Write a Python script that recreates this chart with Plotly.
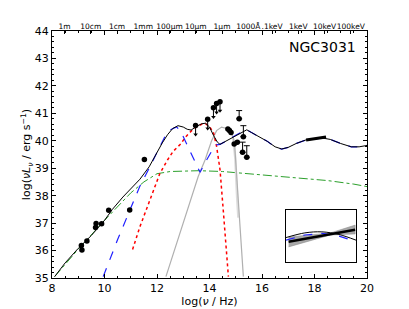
import numpy as np
import plotly.graph_objects as go

# ---------------- data ----------------
tot_x = [8.1, 8.5, 9.0, 9.5, 10.0, 10.3, 10.7, 11.0, 11.35, 11.7, 12.0, 12.2, 12.4, 12.6, 12.8, 13.0, 13.15, 13.3,
         13.5, 13.7, 13.85, 14.0, 14.15, 14.3, 14.4, 14.6, 14.8, 15.0, 15.2, 15.42, 15.6, 15.8, 16.0, 16.2, 16.5,
         16.75, 17.0, 17.3, 17.7, 18.0, 18.3, 18.6, 19.0, 19.4, 19.7, 20.0]
tot_y = [35.05, 35.55, 36.08, 36.55, 37.1, 37.5, 37.95, 38.25, 38.6, 39.05, 39.6, 39.92, 40.22, 40.45, 40.55, 40.5, 40.42, 40.39,
         40.52, 40.62, 40.64, 40.5, 40.2, 39.95, 39.87, 39.97, 40.1, 40.2, 40.3, 40.4, 40.3, 40.2, 40.1, 39.98, 39.78,
         39.7, 39.76, 39.9, 40.04, 40.08, 40.1, 40.05, 39.9, 39.78, 39.78, 39.83]

agn_x = [9.95, 10.5, 11.0, 11.35, 11.7, 12.0, 12.3, 12.5, 12.75, 12.9, 13.0, 13.2, 13.4, 13.64, 13.8, 13.95, 14.1, 14.27,
         14.4, 14.6, 14.8, 15.0, 15.2, 15.42, 15.6, 15.8, 16.0, 16.2, 16.5, 16.75, 17.0, 17.3, 17.7, 18.0, 18.3, 18.6,
         19.0, 19.4, 19.7, 20.0]
agn_y = [35.05, 36.4, 37.55, 38.35, 39.0, 39.55, 40.15, 40.4, 40.5, 40.35, 40.15, 39.75, 39.35, 38.85, 39.15, 39.42, 39.65, 39.85,
         39.87, 39.97, 40.1, 40.2, 40.3, 40.4, 40.3, 40.2, 40.1, 39.98, 39.78, 39.7, 39.76, 39.9, 40.04, 40.08, 40.1, 40.05,
         39.9, 39.78, 39.78, 39.83]

dust_x = [11.07, 11.35, 11.73, 12.11, 12.4, 12.62, 12.9, 13.1, 13.3, 13.5, 13.7, 13.85, 14.0, 14.15, 14.27, 14.4, 14.53, 14.63, 14.72]
dust_y = [36.04, 36.87, 37.84, 38.81, 39.3, 39.62, 39.88, 40.15, 40.35, 40.5, 40.6, 40.62, 40.52, 40.3, 39.8, 38.95, 37.4, 36.15, 35.05]

jet_x = [8.1, 9.0, 10.0, 10.5, 11.0, 11.5, 12.0, 12.5, 13.0, 13.6, 14.5, 15.5, 16.3, 17.5, 18.5, 19.5, 20.0]
jet_y = [35.05, 36.05, 37.1, 37.6, 38.1, 38.5, 38.8, 38.88, 38.9, 38.91, 38.88, 38.8, 38.75, 38.65, 38.55, 38.42, 38.33]

star_x = [12.34, 12.8, 13.2, 13.57, 13.83, 14.08, 14.27, 14.46, 14.65, 14.84, 14.95, 15.04, 15.13, 15.23, 15.29]
star_y = [35.05, 36.4, 37.6, 38.7, 39.3, 40.0, 40.37, 40.5, 40.45, 40.27, 39.95, 38.6, 37.6, 36.14, 35.05]

band_x = [14.9, 14.98, 15.05, 15.1]
band_y = [40.1, 39.4, 38.0, 37.2]

det_x = [9.12, 9.14, 9.33, 9.66, 9.68, 9.89, 10.16, 10.96, 11.52, 14.70, 14.76, 14.82, 14.94, 15.06]
det_y = [36.18, 36.02, 36.35, 36.84, 36.99, 36.98, 37.47, 37.48, 39.32, 40.43, 40.37, 40.3, 39.88, 39.95]

err_x = [15.13, 15.29, 15.26, 15.42]
err_y = [40.8, 40.15, 39.58, 39.4]
err_up = [0.3, 0.4, 0.37, 0.42]

ul_x = [13.47, 13.93, 14.15, 14.27, 14.4]
ul_y = [40.56, 40.78, 41.2, 41.36, 41.42]
ul_len = 0.33

uv_x = [14.67, 14.83]
uv_y = [40.44, 40.29]

xray_x = [17.68, 18.44]
xray_y = [40.03, 40.14]

# inset (zoom on the X-ray band)
ins_x = [17.63, 17.85, 18.05, 18.25, 18.45]
ins_agn = [39.92, 40.02, 40.05, 40.0, 39.89]
ins_tot = [39.97, 40.06, 40.08, 40.03, 39.92]
bow_x = [17.66, 18.15, 18.44]
bow_up = [39.98, 40.06, 40.21]
bow_lo = [39.79, 40.02, 40.04]
bow_mid = [39.89, 40.04, 40.12]

top_labels = ['1m', '10cm', '1cm', '1mm', '100μm', '10μm', '1μm', '1000Å', '.1keV', '1keV', '10keV', '100keV']
top_lambda_cm = [100, 10, 1, 0.1, 0.01, 1e-3, 1e-4, 1e-5]
top_kev = [0.1, 1, 10, 100]

c = 2.998e10
kev_hz = 2.418e17
top_vals = [np.log10(c / l) for l in top_lambda_cm] + [np.log10(e * kev_hz) for e in top_kev]

FONT = "DejaVu Sans"

fig = go.Figure()

fig.add_trace(go.Scatter(x=jet_x, y=jet_y, mode='lines', line=dict(color='#2ca02c', width=1, dash='dashdot'), showlegend=False))
fig.add_trace(go.Scatter(x=band_x, y=band_y, mode='lines', line=dict(color='#dddddd', width=2.5), showlegend=False))
fig.add_trace(go.Scatter(x=star_x, y=star_y, mode='lines', line=dict(color='#b0b0b0', width=1.2), showlegend=False))
fig.add_trace(go.Scatter(x=dust_x, y=dust_y, mode='lines', line=dict(color='red', width=1.5, dash='dot'), showlegend=False))
fig.add_trace(go.Scatter(x=agn_x, y=agn_y, mode='lines', line=dict(color='#2020ff', width=1.2, dash='dash'), showlegend=False))
fig.add_trace(go.Scatter(x=tot_x, y=tot_y, mode='lines', line=dict(color='black', width=1), showlegend=False))

fig.add_trace(go.Scatter(x=uv_x, y=uv_y, mode='lines', line=dict(color='black', width=3.5), showlegend=False))
fig.add_trace(go.Scatter(x=xray_x, y=xray_y, mode='lines', line=dict(color='black', width=3), showlegend=False))

fig.add_trace(go.Scatter(x=det_x, y=det_y, mode='markers', marker=dict(color='black', size=5.5), showlegend=False))
fig.add_trace(go.Scatter(x=err_x, y=err_y, mode='markers', marker=dict(color='black', size=5.5),
                         error_y=dict(type='data', symmetric=False, array=err_up, arrayminus=[0] * len(err_up),
                                      color='black', thickness=1, width=3), showlegend=False))
fig.add_trace(go.Scatter(x=ul_x, y=ul_y, mode='markers', marker=dict(color='black', size=5.5),
                         error_y=dict(type='data', symmetric=False, array=[0] * len(ul_x),
                                      arrayminus=[ul_len] * len(ul_x), color='black', thickness=1, width=0),
                         showlegend=False))
fig.add_trace(go.Scatter(x=ul_x, y=[v - ul_len for v in ul_y], mode='markers',
                         marker=dict(color='black', size=4, symbol='triangle-down'), showlegend=False))

# inset
fig.add_trace(go.Scatter(x=bow_x + bow_x[::-1], y=bow_up + bow_lo[::-1], fill='toself', fillcolor='#a8a8a8',
                         line=dict(color='#888888', width=0.5), mode='lines', xaxis='x3', yaxis='y3', showlegend=False))
fig.add_trace(go.Scatter(x=ins_x, y=ins_agn, mode='lines', line=dict(color='#2020ff', width=1.2, dash='dash'),
                         xaxis='x3', yaxis='y3', showlegend=False))
fig.add_trace(go.Scatter(x=ins_x, y=ins_tot, mode='lines', line=dict(color='black', width=1),
                         line_shape='spline', xaxis='x3', yaxis='y3', showlegend=False))
fig.add_trace(go.Scatter(x=bow_x, y=bow_mid, mode='lines', line=dict(color='black', width=2.5),
                         xaxis='x3', yaxis='y3', showlegend=False))

# dummy trace to activate top axis
fig.add_trace(go.Scatter(x=[8, 20], y=[35, 35], mode='lines', line=dict(width=0), xaxis='x2',
                         hoverinfo='skip', showlegend=False, opacity=0))

tickfont = dict(family=FONT, size=11, color='black')
fig.update_layout(
    width=401, height=301,
    margin=dict(l=44, r=42, t=23, b=31),
    paper_bgcolor='white', plot_bgcolor='white',
    font=dict(family=FONT, color='black'),
    xaxis=dict(range=[8, 20], tickvals=[8, 10, 12, 14, 16, 18, 20], ticks='inside', ticklen=4, tickwidth=1,
               tickcolor='black', showline=True, linecolor='black', linewidth=1, mirror='ticks',
               showgrid=False, zeroline=False, tickfont=tickfont, automargin=False,
               minor=dict(dtick=0.5, tick0=8, ticks='inside', ticklen=2, tickcolor='black', showgrid=False),
               title=dict(text='log(<i>ν</i> / Hz)', font=dict(family=FONT, size=11), standoff=3)),
    yaxis=dict(range=[35, 44], dtick=1, ticks='inside', ticklen=4, tickwidth=1, tickcolor='black',
               showline=True, linecolor='black', linewidth=1, mirror='ticks', showgrid=False, zeroline=False,
               tickfont=tickfont, automargin=False,
               minor=dict(dtick=0.2, ticks='inside', ticklen=2, tickcolor='black', showgrid=False),
               title=dict(text='log(<i>νL</i><sub><i>ν</i></sub> / erg s<sup>−1</sup>)',
                          font=dict(family=FONT, size=11), standoff=0)),
    xaxis2=dict(overlaying='x', side='top', range=[8, 20], tickvals=top_vals, ticktext=top_labels,
                ticks='inside', ticklen=3, tickcolor='black', showgrid=False, zeroline=False, showline=False,
                tickangle=0, automargin=False,
                tickfont=dict(family=FONT, size=7.5, color='black')),
    xaxis3=dict(domain=[0.743, 0.965], anchor='y3', range=[17.63, 18.45], showticklabels=False, ticks='',
                showline=True, linecolor='black', linewidth=1, mirror=True, showgrid=False, zeroline=False),
    yaxis3=dict(domain=[0.065, 0.275], anchor='x3', range=[39.5, 40.5], showticklabels=False, ticks='',
                showline=True, linecolor='black', linewidth=1, mirror=True, showgrid=False, zeroline=False),
    annotations=[dict(text='NGC3031', xref='paper', yref='paper', x=0.971, y=0.934, xanchor='right',
                      yanchor='middle', showarrow=False, font=dict(family=FONT, size=14, color='black'))],
)

fig.write_html("out.html")
